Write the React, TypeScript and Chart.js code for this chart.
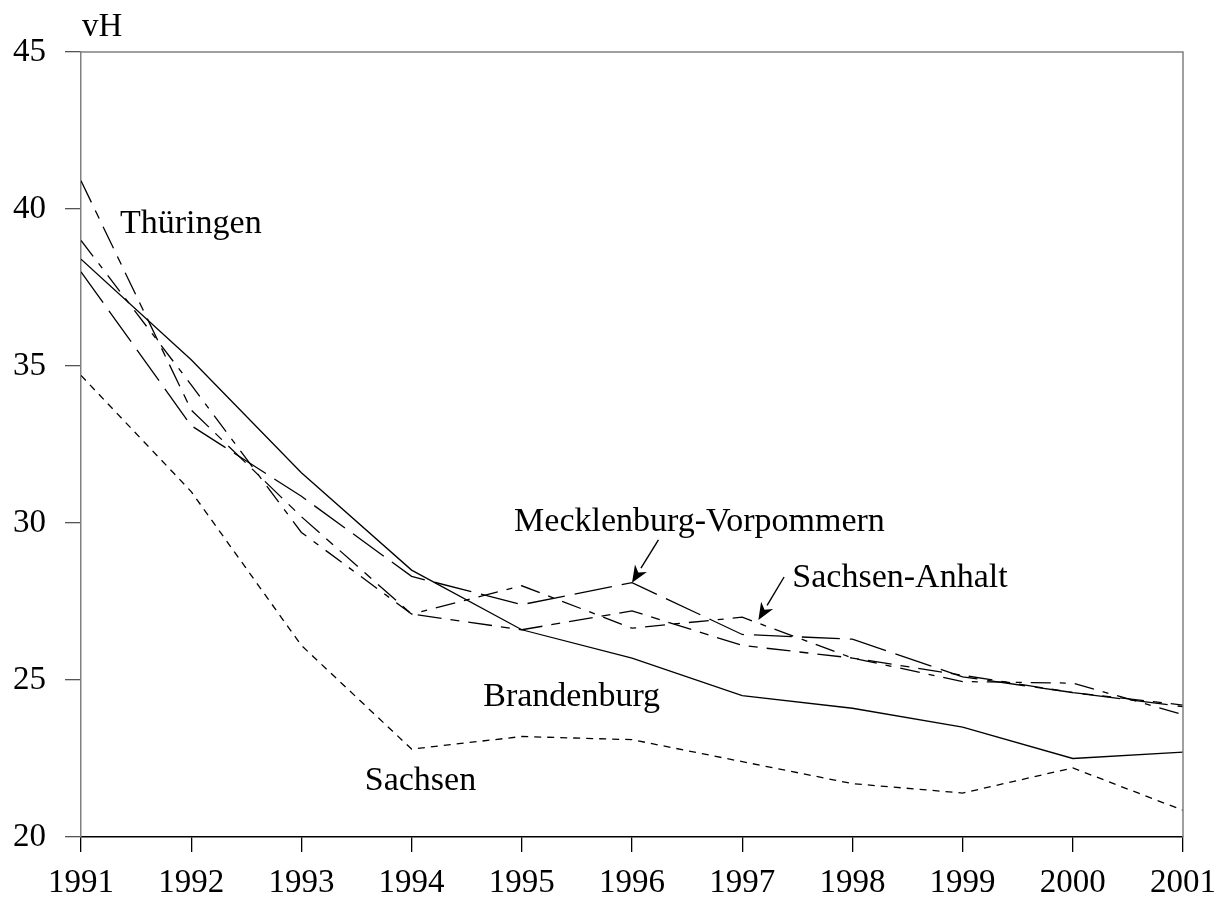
import { useEffect, useRef } from 'react';
import { Chart, registerables } from 'chart.js';

Chart.register(...registerables);

const years = [1991, 1992, 1993, 1994, 1995, 1996, 1997, 1998, 1999, 2000, 2001];
const brandenburg = [38.4, 35.2, 31.6, 28.5, 26.6, 25.7, 24.5, 24.1, 23.5, 22.5, 22.7];
const mecklenburgVorpommern = [38.0, 33.1, 30.85, 28.3, 27.4, 28.1, 26.45, 26.3, 25.1, 24.6, 24.15];
const sachsen = [34.7, 31.0, 26.1, 22.8, 23.2, 23.1, 22.4, 21.7, 21.4, 22.2, 20.85];
const sachsenAnhalt = [39.0, 34.4, 29.7, 27.1, 28.0, 26.65, 27.0, 25.7, 24.95, 24.9, 23.9];
const thueringen = [40.9, 33.6, 30.2, 27.1, 26.6, 27.2, 26.1, 25.7, 25.15, 24.6, 24.2];

const yMin = 20;
const yMax = 45;
const yStep = 5;
const unitLabel = 'vH';

// Text annotations (anchor in data units, left-aligned baseline)
const noteTexts = ['Thüringen', 'Mecklenburg-Vorpommern', 'Sachsen-Anhalt', 'Brandenburg', 'Sachsen'];
const noteX = [1991.354, 1994.93, 1997.455, 1994.65, 1993.575];
const noteY = [39.24, 29.745, 27.96, 24.17, 21.49];

// Arrows (tail -> tip, data units)
const arrowFromX = [1996.24, 1997.38];
const arrowFromY = [29.46, 28.28];
const arrowToX = [1996, 1997.147];
const arrowToY = [28.1, 26.91];

const FONT = '"Liberation Serif", "Times New Roman", serif';

const annotate = {
  id: 'annotate',
  afterDatasetsDraw(chart: any) {
    const { ctx, chartArea: a, scales } = chart;
    const x = scales.x;
    const y = scales.y;
    ctx.save();
    // frame (top and right)
    ctx.strokeStyle = '#808080';
    ctx.lineWidth = 1.5;
    ctx.beginPath();
    ctx.moveTo(a.left, a.top);
    ctx.lineTo(a.right, a.top);
    ctx.lineTo(a.right, a.bottom);
    ctx.stroke();

    ctx.fillStyle = '#000';
    ctx.font = '34px ' + FONT;
    ctx.textAlign = 'left';
    ctx.textBaseline = 'alphabetic';
    for (let i = 0; i < noteTexts.length; i++) {
      ctx.fillText(noteTexts[i], x.getPixelForValue(noteX[i]), y.getPixelForValue(noteY[i]));
    }
    ctx.font = '33px ' + FONT;
    ctx.fillText(unitLabel, a.left + 1, a.top - 16);

    // arrows
    ctx.strokeStyle = '#000';
    ctx.lineWidth = 1.4;
    for (let i = 0; i < arrowFromX.length; i++) {
      const x0 = x.getPixelForValue(arrowFromX[i]);
      const y0 = y.getPixelForValue(arrowFromY[i]);
      const x1 = x.getPixelForValue(arrowToX[i]);
      const y1 = y.getPixelForValue(arrowToY[i]);
      const ang = Math.atan2(y1 - y0, x1 - x0);
      const len = 17;
      const hw = 7;
      const bx = x1 - Math.cos(ang) * len;
      const by = y1 - Math.sin(ang) * len;
      ctx.beginPath();
      ctx.moveTo(x0, y0);
      ctx.lineTo(bx, by);
      ctx.stroke();
      ctx.beginPath();
      ctx.moveTo(x1, y1);
      ctx.lineTo(bx + Math.sin(ang) * hw, by - Math.cos(ang) * hw);
      ctx.lineTo(x1 - Math.cos(ang) * (len - 5), y1 - Math.sin(ang) * (len - 5));
      ctx.lineTo(bx - Math.sin(ang) * hw, by + Math.cos(ang) * hw);
      ctx.closePath();
      ctx.fill();
    }
    ctx.restore();
  },
};

export default function App() {
  const ref = useRef<HTMLCanvasElement | null>(null);

  useEffect(() => {
    document.body.style.margin = '0';
    const canvas = ref.current;
    if (!canvas) return;
    const mk = (label: string, data: number[], dash: number[]) => ({
      label,
      data: data.map((v, i) => ({ x: years[i], y: v })),
      borderColor: '#000',
      borderWidth: 1.3,
      borderDash: dash,
      pointRadius: 0,
      fill: false,
      tension: 0,
    });
    const chart = new Chart(canvas, {
      type: 'line',
      data: {
        datasets: [
          mk('Brandenburg', brandenburg, []),
          mk('Mecklenburg-Vorpommern', mecklenburgVorpommern, [38, 10]),
          mk('Sachsen', sachsen, [7, 6]),
          mk('Sachsen-Anhalt', sachsenAnhalt, [20, 9, 6, 9]),
          mk('Thüringen', thueringen, [24, 9, 9, 9]),
        ],
      },
      options: {
        responsive: false,
        animation: false,
        layout: { padding: { left: 0, top: 52, right: 44, bottom: 0 } },
        plugins: {
          legend: { display: false },
          tooltip: { enabled: false },
        },
        scales: {
          x: {
            type: 'linear',
            min: years[0],
            max: years[years.length - 1],
            afterFit: (s: any) => {
              s.height = 66;
            },
            ticks: {
              stepSize: 1,
              autoSkip: false,
              maxRotation: 0,
              padding: 12,
              color: '#000',
              font: { family: FONT, size: 33 },
              callback: (v: any) => String(v),
            },
            grid: {
              display: true,
              drawOnChartArea: false,
              drawTicks: true,
              tickLength: 15,
              tickColor: '#000',
              lineWidth: 1.3,
            },
            border: { display: true, color: '#000', width: 1.5 },
          },
          y: {
            type: 'linear',
            min: yMin,
            max: yMax,
            afterFit: (s: any) => {
              s.width = 81;
            },
            ticks: {
              stepSize: yStep,
              padding: 19,
              color: '#000',
              font: { family: FONT, size: 33 },
            },
            grid: {
              display: true,
              drawOnChartArea: false,
              drawTicks: true,
              tickLength: 16,
              tickColor: '#555',
              lineWidth: 1.3,
            },
            border: { display: true, color: '#808080', width: 1.5 },
          },
        },
      },
      plugins: [annotate],
    });
    return () => chart.destroy();
  }, []);

  return (
    <div style={{ width: 1228, height: 903 }}>
      <canvas ref={ref} width={1228} height={903} style={{ display: 'block' }} />
    </div>
  );
}
